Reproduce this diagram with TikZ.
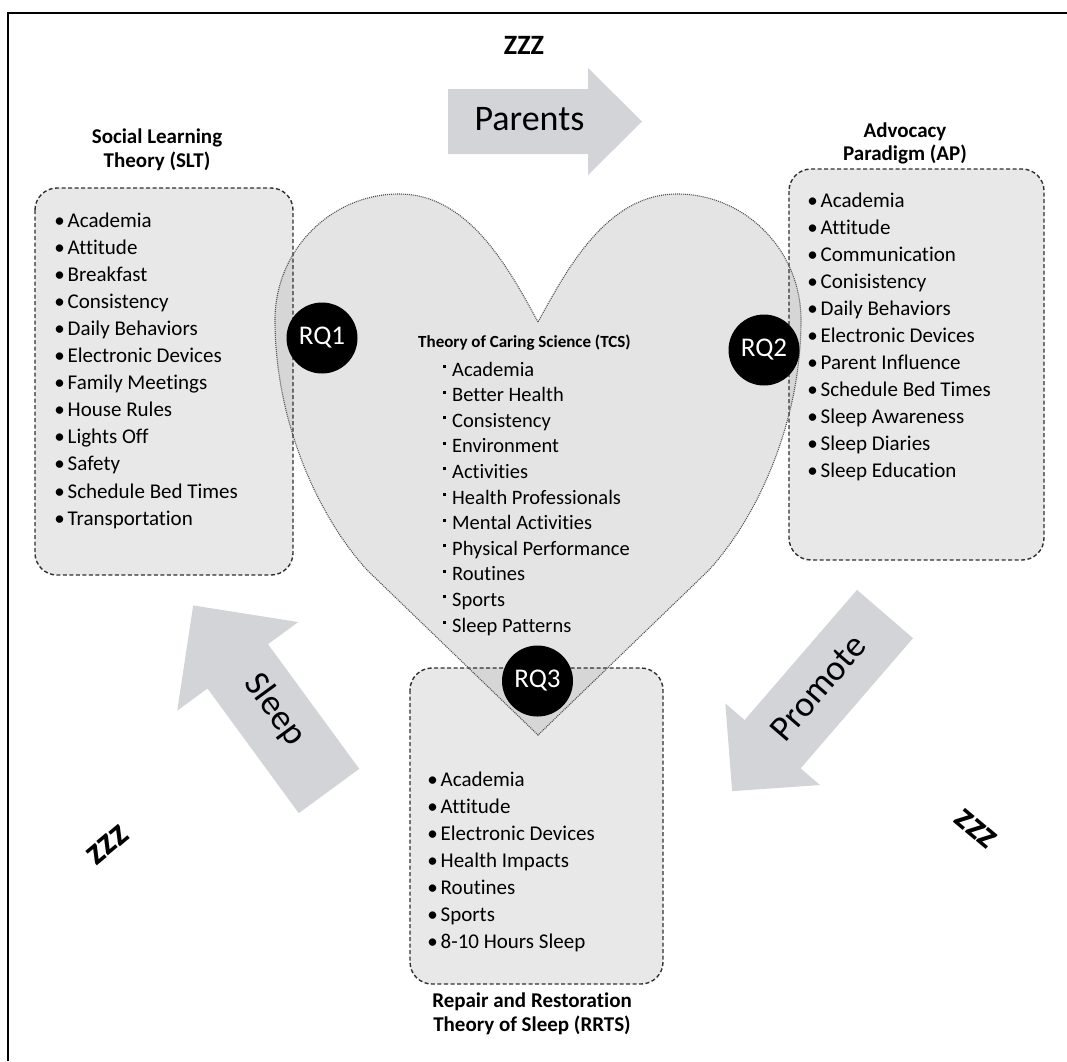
\documentclass[tikz,border=0pt]{standalone}
\usepackage{fontspec}
\setmainfont{Carlito}[Ligatures=NoCommon]
\definecolor{boxfill}{HTML}{E8E8E8}
\definecolor{heartfill}{HTML}{E4E4E4}
\definecolor{overlapfill}{HTML}{D6D6D6}
\definecolor{arrowfill}{HTML}{D3D4D8}
\definecolor{edge}{HTML}{303030}
\definecolor{heartline}{HTML}{505050}
\newcommand{\bul}{\makebox[16pt][c]{•}}
\newcommand{\sqbul}{\makebox[9pt][l]{\raisebox{8pt}{\rule{3pt}{3pt}}}}
% outline of the heart and of the three panels
\def\heartpath{(538,322) .. controls (509,269) and (469,194) .. (399,194)
  .. controls (331,194) and (275,250) .. (275,320)
  .. controls (275,420) and (317,515) .. (367,570)
  -- (538,735) -- (709,570)
  .. controls (759,515) and (801,420) .. (801,320)
  .. controls (801,250) and (745,194) .. (677,194)
  .. controls (607,194) and (567,269) .. (538,322) -- cycle}
\def\sltpanel{(35,188) rectangle (293,575)}
\def\appanel{(789,169) rectangle (1044,560)}
\def\rrtspanel{(410,668) rectangle (663,984)}
\begin{document}
\begin{tikzpicture}[x=1pt,y=-1pt,
  item/.style={anchor=base west, inner sep=0pt, font=\fontsize{21}{25}\selectfont},
  tcsitem/.style={anchor=base west, inner sep=0pt, font=\fontsize{20.5}{25}\selectfont},
  heading/.style={anchor=base, inner sep=0pt, font=\fontsize{21}{25}\selectfont\bfseries},
  rq/.style={circle, fill=black, inner sep=0pt, minimum size=71pt, text=white,
    font=\fontsize{27}{27}\selectfont},
  arrowlabel/.style={inner sep=0pt, font=\fontsize{36}{36}\selectfont},
  zzz/.style={inner sep=0pt, font=\fontsize{38}{38}\selectfont\bfseries},
  bigarrow/.style={fill=arrowfill},
  panelfill/.style={fill=boxfill, rounded corners=22pt},
  paneledge/.style={draw=edge, line width=1.4pt, dash pattern=on 4pt off 2.5pt,
    rounded corners=22pt},
  heartedge/.style={draw=heartline, line width=1.1pt, dash pattern=on 1pt off 1pt},
]
\useasboundingbox (0,0) rectangle (1067,1061);
% frame
\draw[line width=2.5pt] (8,1061) -- (8,13) -- (1067,13);

% block arrows
\path[bigarrow] (448,89) -- (588,89) -- (588,68) -- (642,121.5) -- (588,175)
  -- (588,154) -- (448,154) -- cycle;
\begin{scope}[shift={(329,791)}, rotate=126.2]
  \path[bigarrow] (0,-37.5) -- (154.5,-37.5) -- (154.5,-75) -- (230,0)
    -- (154.5,75) -- (154.5,37.5) -- (0,37.5) -- cycle;
\end{scope}
\begin{scope}[shift={(885,614)}, rotate=229.2]
  \path[bigarrow] (0,-37) -- (172,-37) -- (172,-62.5) -- (234,0)
    -- (172,62.5) -- (172,37) -- (0,37) -- cycle;
\end{scope}

% panels and heart
\fill[panelfill] \sltpanel;
\fill[panelfill] \appanel;
\fill[panelfill] \rrtspanel;
\fill[heartfill] \heartpath;
\begin{scope}
  \clip \heartpath;
  \fill[overlapfill, rounded corners=22pt] \sltpanel;
  \fill[overlapfill, rounded corners=22pt] \appanel;
  \fill[overlapfill, rounded corners=22pt] \rrtspanel;
\end{scope}
\path[paneledge] \sltpanel;
\path[paneledge] \appanel;
\path[paneledge] \rrtspanel;
\path[heartedge] \heartpath;

% labels on the arrows
\node[arrowlabel, anchor=base] (parents) at (529.5,130) {Parents};
\node[arrowlabel, rotate=-53.8] (sleep) at (275,710) {Sleep};
\node[arrowlabel, rotate=49.2] (promote) at (818,688) {Promote};

% sleep marks
\node[zzz, anchor=base, font=\fontsize{28}{28}\selectfont\bfseries] (ztop) at (524,54) {ZZZ};
\node[zzz, rotate=40] (zleft) at (107.5,845) {zzz};
\node[zzz, rotate=-40] (zright) at (976,829) {zzz};

% Social Learning Theory
\node[heading] (slth1) at (157,143.5) {Social Learning};
\node[heading] (slth2) at (157,167) {Theory (SLT)};
\foreach \t [count=\i] in {Academia,Attitude,Breakfast,Consistency,Daily Behaviors,
  Electronic Devices,Family Meetings,House Rules,Lights Off,Safety,
  Schedule Bed Times,Transportation}
  \node[item] (slt\i) at (51.5,{227+27.1*(\i-1)}) {\bul\t};

% Advocacy Paradigm
\node[heading] (aph1) at (905,137) {Advocacy};
\node[heading] (aph2) at (905,160.5) {Paradigm (AP)};
\foreach \t [count=\i] in {Academia,Attitude,Communication,Conisistency,
  Daily Behaviors,Electronic Devices,Parent Influence,Schedule Bed Times,
  Sleep Awareness,Sleep Diaries,Sleep Education}
  \node[item] (ap\i) at (804.5,{207+27*(\i-1)}) {\bul\t};

% Repair and Restoration Theory of Sleep
\foreach \t [count=\i] in {Academia,Attitude,Electronic Devices,Health Impacts,
  Routines,Sports,8-10 Hours Sleep}
  \node[item] (rrts\i) at (424.5,{786+27*(\i-1)}) {\bul\t};
\node[heading] (rrtsh1) at (532,1007) {Repair and Restoration};
\node[heading] (rrtsh2) at (532,1031) {Theory of Sleep (RRTS)};

% Theory of Caring Science
\node[anchor=base west, inner sep=0pt, font=\fontsize{17}{20}\selectfont\bfseries]
  (tcsh) at (418,347) {Theory of Caring Science (TCS)};
\foreach \t [count=\i] in {Academia,Better Health,Consistency,Environment,
  Activities,Health Professionals,Mental Activities,Physical Performance,
  Routines,Sports,Sleep Patterns}
  \node[tcsitem] (tcs\i) at (443,{376+25.6*(\i-1)}) {\sqbul\t};

% research questions
\node[rq] (rq1) at (322,338) {RQ1};
\node[rq] (rq2) at (764,350) {RQ2};
\node[rq] (rq3) at (537.5,681) {RQ3};
\end{tikzpicture}
\end{document}
